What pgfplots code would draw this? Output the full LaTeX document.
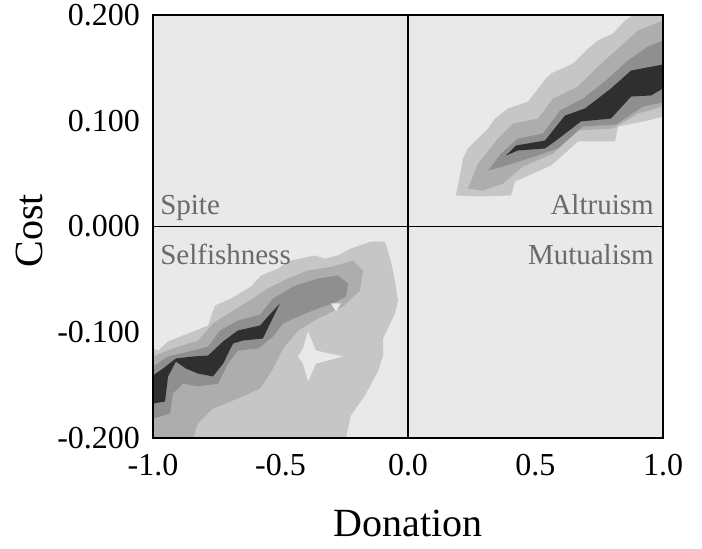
\documentclass[border=0pt]{standalone}
\usepackage{fontspec}
\setmainfont{Liberation Serif}
\usepackage{pgfplots}
\pgfplotsset{compat=1.18}
\definecolor{bggray}{HTML}{E9E9E9}
\definecolor{cA}{HTML}{C6C6C6}
\definecolor{cB}{HTML}{ADADAD}
\definecolor{cC}{HTML}{8F8F8F}
\definecolor{cD}{HTML}{2F2F2F}
\definecolor{txtgray}{HTML}{6A6A6A}
\begin{document}
\begin{tikzpicture}
\begin{axis}[
  width=255pt, height=211.5pt, scale only axis,
  xmin=-1, xmax=1, ymin=-0.2, ymax=0.2,
  xtick={-1,-0.5,0,0.5,1},
  xticklabels={-1.0,-0.5,0.0,0.5,1.0},
  ytick={-0.2,-0.1,0,0.1,0.2},
  yticklabels={-0.200,-0.100,0.000,0.100,0.200},
  major tick length=0pt,
  tick label style={font=\fontsize{16}{18}\selectfont},
  xticklabel style={yshift=-4.5pt},
  yticklabel style={xshift=-3pt},
  axis on top,
  axis background/.style={fill=bggray},
  axis line style={black, line width=0.7pt},
  xlabel={Donation}, ylabel={Cost},
  label style={font=\fontsize{20}{23}\selectfont},
  xlabel style={at={(axis description cs:0.5,-0.203)}, anchor=center},
  ylabel style={at={(axis description cs:-0.243,0.49)}, anchor=center},
]
% Altruism blob
\addplot[fill=cA, draw=none] coordinates {
(0.188,0.0293) (0.216,0.0643) (0.235,0.0738) (0.314,0.0927) (0.341,0.1021)
(0.392,0.1116) (0.471,0.1182) (0.541,0.140) (0.561,0.1447) (0.647,0.1541)
(0.706,0.1683) (0.745,0.1759) (0.804,0.1825) (0.851,0.1948) (0.882,0.2)
(1.0,0.2) (1.0,0.104) (0.941,0.1002) (0.824,0.0946) (0.812,0.0804)
(0.667,0.0804) (0.561,0.0577) (0.420,0.0426) (0.404,0.0293) (0.275,0.0284)
} -- cycle;
\addplot[fill=cB, draw=none] coordinates {
(0.235,0.0359) (0.275,0.0596) (0.353,0.0832) (0.412,0.0974) (0.510,0.1021)
(0.569,0.1210) (0.667,0.1324) (0.745,0.1513) (0.824,0.1683) (0.902,0.1853)
(1.0,0.1948) (1.0,0.1135) (0.902,0.1069) (0.804,0.0927) (0.667,0.0908)
(0.569,0.0690) (0.451,0.0567) (0.373,0.0407) (0.294,0.0340)
} -- cycle;
\addplot[fill=cC, draw=none] coordinates {
(0.314,0.0530) (0.365,0.0690) (0.431,0.0832) (0.529,0.0879) (0.596,0.1097)
(0.686,0.1210) (0.776,0.1381) (0.863,0.1570) (0.941,0.1702) (1.0,0.1759)
(1.0,0.1173) (0.922,0.1135) (0.816,0.0965) (0.686,0.0946) (0.588,0.0738)
(0.471,0.0643) (0.373,0.0567)
} -- cycle;
\addplot[fill=cD, draw=none] coordinates {
(0.384,0.0671) (0.424,0.0766) (0.537,0.0813) (0.616,0.1050) (0.694,0.1116)
(0.796,0.1305) (0.875,0.1475) (1.0,0.1532) (1.0,0.1305) (0.953,0.1239)
(0.875,0.1229) (0.796,0.1021) (0.678,0.0993) (0.576,0.0804) (0.537,0.0738)
(0.431,0.0719)
} -- cycle;
% Selfishness blob
\addplot[fill=cA, draw=none] coordinates {
(-1.0,-0.2) (-1.0,-0.1154) (-0.980,-0.1173) (-0.941,-0.1087) (-0.863,-0.1012)
(-0.784,-0.0936) (-0.757,-0.0747) (-0.694,-0.0681) (-0.616,-0.0567) (-0.576,-0.0463)
(-0.510,-0.0397) (-0.459,-0.0322) (-0.365,-0.0274) (-0.325,-0.0303) (-0.275,-0.0274)
(-0.224,-0.0208) (-0.145,-0.0142) (-0.090,-0.0142) (-0.067,-0.0331) (-0.051,-0.0520)
(-0.039,-0.0700) (-0.051,-0.0823) (-0.098,-0.1059) (-0.098,-0.1220) (-0.118,-0.1371)
(-0.169,-0.1598) (-0.224,-0.1787) (-0.243,-0.2)
} -- cycle;
\addplot[fill=cB, draw=none] coordinates {
(-1.0,-0.2) (-1.0,-0.1229) (-0.922,-0.1154) (-0.824,-0.1078) (-0.765,-0.0917)
(-0.686,-0.0794) (-0.608,-0.0681) (-0.549,-0.0586) (-0.471,-0.0492) (-0.392,-0.0416)
(-0.294,-0.0378) (-0.216,-0.0322) (-0.176,-0.0416) (-0.188,-0.0605) (-0.255,-0.0757)
(-0.353,-0.0870) (-0.431,-0.0983) (-0.490,-0.1154) (-0.529,-0.1343) (-0.580,-0.1532)
(-0.667,-0.1626) (-0.765,-0.1721) (-0.824,-0.1863) (-0.843,-0.2)
} -- cycle;
\addplot[fill=cC, draw=none] coordinates {
(-1.0,-0.1324) (-0.941,-0.1229) (-0.843,-0.1173) (-0.784,-0.1135) (-0.737,-0.0983)
(-0.667,-0.0889) (-0.580,-0.0832) (-0.529,-0.0681) (-0.451,-0.0567) (-0.353,-0.0492)
(-0.275,-0.0463) (-0.235,-0.0539) (-0.243,-0.0662) (-0.294,-0.0728) (-0.353,-0.0775)
(-0.431,-0.0851) (-0.490,-0.0917) (-0.529,-0.1040) (-0.588,-0.1154) (-0.667,-0.1173)
(-0.706,-0.1296) (-0.745,-0.1485) (-0.824,-0.1513) (-0.882,-0.1485) (-0.922,-0.1579)
(-0.933,-0.1768) (-1.0,-0.1816)
} -- cycle;
\addplot[fill=cD, draw=none] coordinates {
(-1.0,-0.1409) (-0.961,-0.1343) (-0.910,-0.1248) (-0.843,-0.1229) (-0.784,-0.1220)
(-0.725,-0.1087) (-0.667,-0.0983) (-0.580,-0.0936) (-0.549,-0.0851) (-0.502,-0.0728)
(-0.541,-0.0917) (-0.569,-0.1059) (-0.647,-0.1078) (-0.686,-0.1106) (-0.725,-0.1296)
(-0.765,-0.1418) (-0.824,-0.1390) (-0.871,-0.1343) (-0.910,-0.1277) (-0.941,-0.1418)
(-0.953,-0.1655) (-1.0,-0.1674)
} -- cycle;
% light holes
\addplot[fill=bggray, draw=none] coordinates {
(-0.392,-0.0993) (-0.361,-0.1173) (-0.255,-0.1229) (-0.361,-0.1296)
(-0.392,-0.1466) (-0.412,-0.1296) (-0.431,-0.1229) (-0.412,-0.1154)
} -- cycle;
\addplot[fill=bggray, draw=none] coordinates {
(-0.302,-0.0728) (-0.263,-0.0728) (-0.282,-0.0804)
} -- cycle;
% zero lines
\addplot[black, line width=0.6pt] coordinates {(0,-0.2) (0,0.2)};
\addplot[black, line width=0.6pt] coordinates {(-1,0) (1,0)};
% quadrant labels
\node[anchor=base west, inner sep=0pt, text=txtgray, font=\fontsize{14.5}{16}\selectfont] at (axis cs:-0.973,0.0113) {Spite};
\node[anchor=base east, inner sep=0pt, text=txtgray, font=\fontsize{14.5}{16}\selectfont] at (axis cs:0.965,0.0113) {Altruism};
\node[anchor=base west, inner sep=0pt, text=txtgray, font=\fontsize{14.5}{16}\selectfont] at (axis cs:-0.973,-0.0359) {Selfishness};
\node[anchor=base east, inner sep=0pt, text=txtgray, font=\fontsize{14.5}{16}\selectfont] at (axis cs:0.965,-0.0359) {Mutualism};
\end{axis}
\pgfresetboundingbox
\path (-76.5pt,-55pt) rectangle (274.5pt,219pt);
\end{tikzpicture}
\end{document}
